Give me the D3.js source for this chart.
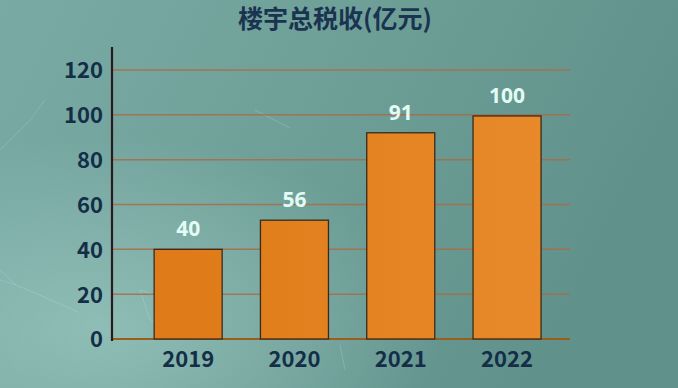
<!DOCTYPE html>
<html>
<head>
<meta charset="utf-8">
<script src="https://cdn.jsdelivr.net/npm/d3@7"></script>
<style>
html,body{margin:0;padding:0;}
body{width:678px;height:388px;overflow:hidden;}
</style>
</head>
<body>
<svg id="chart" width="678" height="388"></svg>
<script>
const title = "楼宇总税收(亿元)";
const categories = ["2019", "2020", "2021", "2022"];
const barValues = [40, 53, 92, 99.5];
const valueLabels = ["40", "56", "91", "100"];
const yTicks = [0, 20, 40, 60, 80, 100, 120];

const W = 678, H = 388;
const svg = d3.select("#chart");
const defs = svg.append("defs");

const bg = defs.append("linearGradient").attr("id", "bg").attr("x1", 0).attr("y1", 0).attr("x2", 1).attr("y2", 0.3);
bg.append("stop").attr("offset", "0%").attr("stop-color", "#79aaa4");
bg.append("stop").attr("offset", "45%").attr("stop-color", "#70a199");
bg.append("stop").attr("offset", "100%").attr("stop-color", "#60918a");
const glow = defs.append("radialGradient").attr("id", "glow").attr("cx", 0.15).attr("cy", 0.85).attr("r", 0.5);
glow.append("stop").attr("offset", "0%").attr("stop-color", "#acd8d2").attr("stop-opacity", 0.5);
glow.append("stop").attr("offset", "100%").attr("stop-color", "#acd8d2").attr("stop-opacity", 0);
const barGrad = defs.append("linearGradient").attr("id", "barg").attr("gradientUnits", "userSpaceOnUse")
  .attr("x1", 150).attr("y1", 0).attr("x2", 545).attr("y2", 0);
barGrad.append("stop").attr("offset", "0%").attr("stop-color", "#de7a17");
barGrad.append("stop").attr("offset", "100%").attr("stop-color", "#e88a2a");

svg.append("rect").attr("width", W).attr("height", H).attr("fill", "url(#bg)");
svg.append("rect").attr("width", W).attr("height", H).attr("fill", "url(#glow)");

// faint network texture
const tex = svg.append("g").attr("stroke", "#d5f2ed").attr("stroke-opacity", 0.25).attr("stroke-width", 0.8).attr("fill", "none");
[[0,280,16,285],[16,285,35,293],[35,293,78,312],[0,270,16,285],[140,290,170,300],[170,300,185,325],[140,290,150,320],[150,320,185,325],[255,110,290,128],[340,345,345,370],[0,150,30,120],[30,120,45,100]]
  .forEach(s => tex.append("line").attr("x1", s[0]).attr("y1", s[1]).attr("x2", s[2]).attr("y2", s[3]));

const x = d3.scaleBand().domain(categories).range([135, 560.2]).paddingInner(0.36).paddingOuter(0.18);
const y = d3.scaleLinear().domain([0, 120]).range([339, 70]);

// gridlines
svg.append("g").selectAll("line").data(yTicks).join("line")
  .attr("x1", 112).attr("x2", 570)
  .attr("y1", d => y(d)).attr("y2", d => y(d))
  .attr("stroke", d => d === 0 ? "#9a5e1c" : "#a86c45")
  .attr("stroke-opacity", d => d === 0 ? 1 : 0.85)
  .attr("stroke-width", d => d === 0 ? 2 : 1.5);

// y axis
const yAxis = d3.axisLeft(y).tickValues(yTicks).tickSize(0).tickPadding(9);
const gy = svg.append("g").attr("transform", "translate(112,0)").call(yAxis);
gy.select(".domain").remove();
gy.selectAll("text").attr("font-family", "'Noto Sans CJK SC', 'Noto Sans', sans-serif")
  .attr("font-size", 22).attr("font-weight", 600).attr("fill", "#142e48").attr("dy", "0.36em");
svg.append("line").attr("x1", 112).attr("x2", 112).attr("y1", 47).attr("y2", 341)
  .attr("stroke", "#2b1a1e").attr("stroke-width", 2.2);

// bars
svg.append("g").selectAll("rect").data(categories).join("rect")
  .attr("x", d => x(d)).attr("width", x.bandwidth())
  .attr("y", (d, i) => y(barValues[i])).attr("height", (d, i) => y(0) - y(barValues[i]))
  .attr("fill", "url(#barg)").attr("stroke", "#3a2a1e").attr("stroke-width", 1.3);

// value labels
svg.append("g").selectAll("text").data(categories).join("text")
  .attr("x", d => x(d) + x.bandwidth() / 2)
  .attr("y", (d, i) => y(barValues[i]) - 13)
  .attr("text-anchor", "middle")
  .attr("font-family", "'Noto Sans', sans-serif").attr("font-weight", 700).attr("font-size", 21)
  .attr("fill", "#e2fbf4")
  .text((d, i) => valueLabels[i]);

// x axis labels
const xAxis = d3.axisBottom(x).tickSize(0).tickPadding(12);
const gx = svg.append("g").attr("transform", "translate(0,339)").call(xAxis);
gx.select(".domain").remove();
gx.selectAll("text").attr("font-family", "'Noto Sans CJK SC', 'Noto Sans', sans-serif")
  .attr("font-size", 22).attr("font-weight", 700).attr("fill", "#142e48");

// title
svg.append("text").attr("x", 335).attr("y", 28).attr("text-anchor", "middle")
  .attr("font-family", "'Noto Sans CJK SC', sans-serif").attr("font-weight", 700).attr("font-size", 25)
  .attr("fill", "#1a3350").text(title);
</script>
</body>
</html>
